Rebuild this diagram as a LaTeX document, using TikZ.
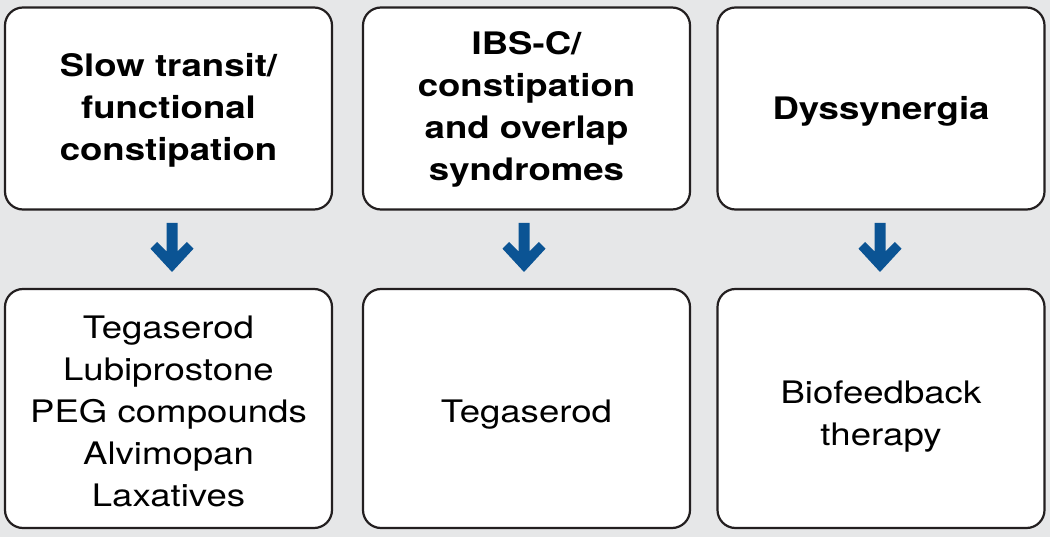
\documentclass[tikz,border=0pt]{standalone}
\usepackage{fontspec}
\setmainfont[FakeStretch=1.18]{TeX Gyre Heros}
\definecolor{bgray}{HTML}{E6E7E8}
\definecolor{arrowblue}{HTML}{0B5494}
\definecolor{edge}{HTML}{231F20}
\tikzset{
  box/.style={draw=edge, line width=2.2pt, fill=white, rounded corners=18pt,
    minimum width=327pt, minimum height=202pt, inner sep=0pt},
  bottombox/.style={box, minimum height=239pt},
  headtxt/.style={align=center, inner sep=0pt, font=\fontsize{31}{42}\selectfont\bfseries},
  bodytxt/.style={align=center, inner sep=0pt, font=\fontsize{31}{42}\selectfont},
  pics/downarrow/.style={code={
    \fill[arrowblue] (-5.5,0) -- (5.5,0) -- (5.5,28.3) -- (14.8,19.0)
      -- (21.5,25.7) -- (0,49) -- (-21.5,25.7) -- (-14.8,19.0) -- (-5.5,28.3) -- cycle;
  }}
}
\begin{document}
\begin{tikzpicture}[x=1pt,y=-1pt]
\fill[bgray] (0,0) rectangle (1050,537);
\useasboundingbox (0,0) rectangle (1050,537);
\node[box] (t1) at (168.5,108.5) {};
\node[box] (t2) at (526.5,108.5) {};
\node[box] (t3) at (881,108.5) {};
\node[bottombox] (b1) at (168.5,408.5) {};
\node[bottombox] (b2) at (526.5,408.5) {};
\node[bottombox] (b3) at (881,408.5) {};
\node[headtxt] (t1t) at ([yshift=-1.5pt]t1.center) {Slow transit/\\functional\\constipation};
\node[headtxt] (t2t) at ([yshift=-1pt]t2.center) {IBS-C/\\constipation\\and overlap\\syndromes};
\node[headtxt] (t3t) at ([yshift=-3pt]t3.center) {Dyssynergia};
\node[bodytxt] (b1t) at ([yshift=-3pt]b1.center) {Tegaserod\\Lubiprostone\\PEG compounds\\Alvimopan\\Laxatives};
\node[bodytxt] (b2t) at ([yshift=-6pt]b2.center) {Tegaserod};
\node[bodytxt] (b3t) at ([yshift=-8pt]b3.center) {Biofeedback\\therapy};
\coordinate (a1) at (172,223);
\coordinate (a2) at (524,223);
\coordinate (a3) at (880,223);
\pic at (a1) {downarrow};
\pic at (a2) {downarrow};
\pic at (a3) {downarrow};
\end{tikzpicture}
\end{document}
